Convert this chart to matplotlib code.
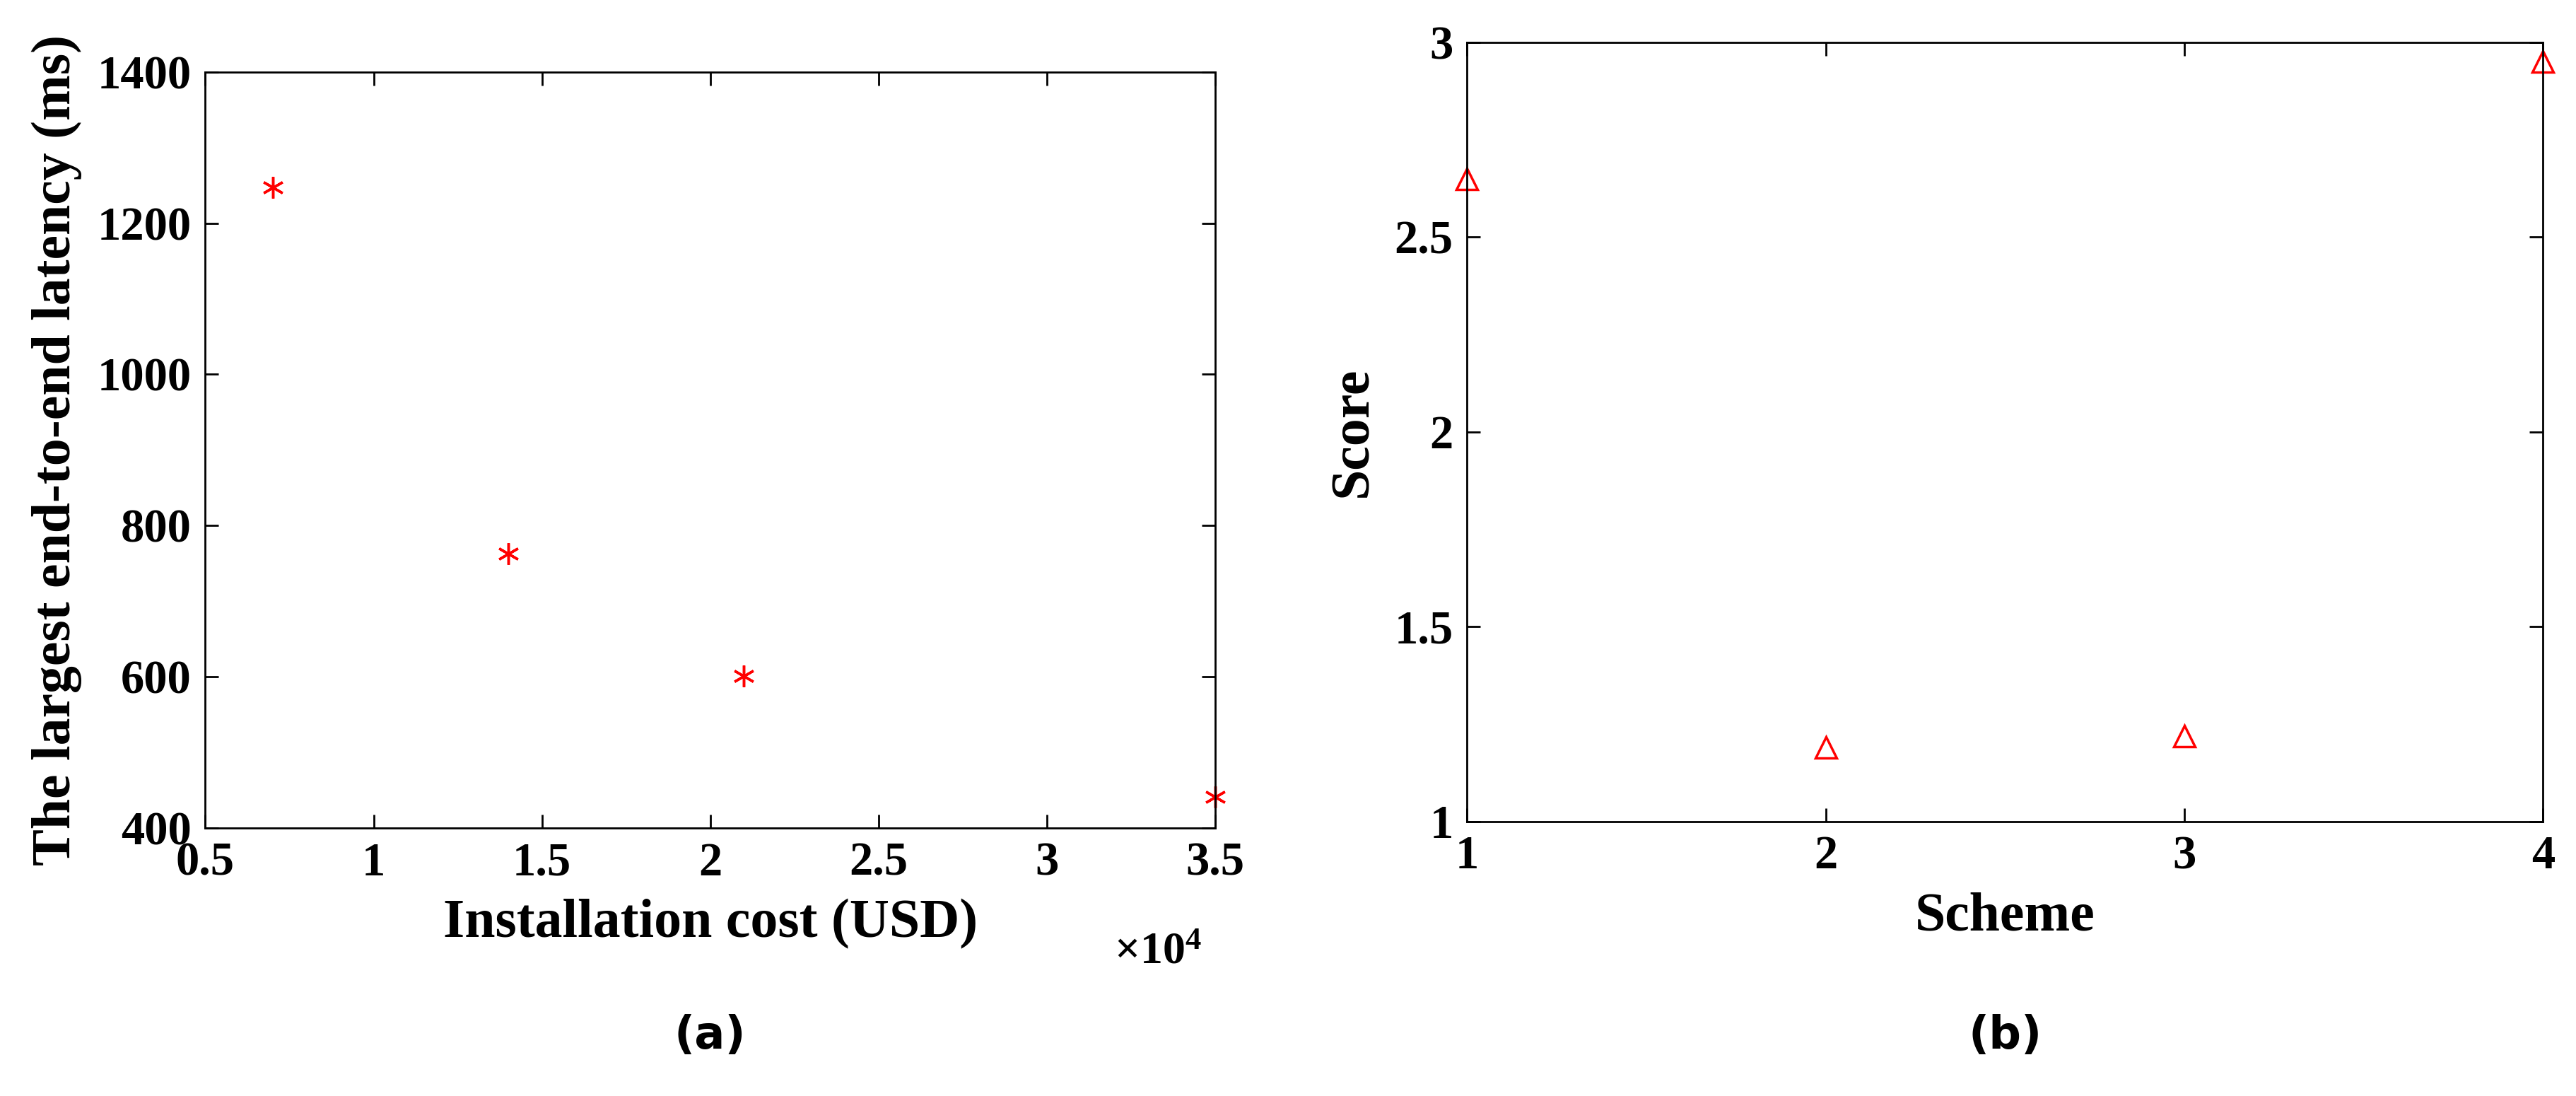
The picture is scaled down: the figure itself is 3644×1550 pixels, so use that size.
import matplotlib
matplotlib.use("Agg")
import matplotlib.pyplot as plt

cost = [7000, 14000, 21000, 35000]
latency = [1247, 763, 601, 441]
scheme = [1, 2, 3, 4]
score = [2.65, 1.19, 1.22, 2.95]

plt.rcParams['font.family'] = ['Liberation Serif', 'DejaVu Serif']
plt.rcParams['font.weight'] = 'bold'
plt.rcParams['mathtext.fontset'] = 'custom'
plt.rcParams['mathtext.rm'] = 'Liberation Serif'
plt.rcParams['mathtext.bf'] = 'Liberation Serif:bold'
fig = plt.figure(figsize=(36.44, 15.5), dpi=100)

ax1 = fig.add_axes([0.0797, 0.2444, 0.392, 0.690])
ax1.plot([c / 1e4 for c in cost], latency, linestyle='none', marker=(6, 2, 0), markersize=22, markeredgewidth=2.5, color='red', clip_on=False)
ax1.set_xlim(0.5, 3.5)
ax1.set_ylim(400, 1400)
ax1.set_xticks([0.5, 1, 1.5, 2, 2.5, 3, 3.5])
ax1.set_xticklabels(['0.5', '1', '1.5', '2', '2.5', '3', '3.5'])
ax1.set_yticks(range(400, 1401, 200))
ax1.set_xlabel('Installation cost (USD)', fontsize=56, fontweight='bold', labelpad=14)
ax1.set_ylabel('The largest end-to-end latency (ms)', fontsize=56, fontweight='bold', labelpad=16)
ax1.text(0.90, -0.165, r'$\times\mathbf{10^4}$', transform=ax1.transAxes, fontsize=46, ha='left', va='center')

ax2 = fig.add_axes([0.5695, 0.2504, 0.4177, 0.711])
ax2.plot(scheme, score, linestyle='none', marker='^', markersize=22, markerfacecolor='none', markeredgewidth=2.5, color='red', clip_on=False)
ax2.set_xlim(1, 4)
ax2.set_ylim(1, 3)
ax2.set_xticks([1, 2, 3, 4])
ax2.set_yticks([1, 1.5, 2, 2.5, 3])
ax2.set_yticklabels(['1', '1.5', '2', '2.5', '3'])
ax2.set_xlabel('Scheme', fontsize=56, fontweight='bold', labelpad=14)
ax2.set_ylabel('Score', fontsize=56, fontweight='bold', labelpad=16)

for ax in (ax1, ax2):
    ax.tick_params(direction='in', top=True, right=True, labelsize=48, length=14, width=2, pad=14)
    for s in ax.spines.values():
        s.set_linewidth(2)
    for lab in ax.get_xticklabels() + ax.get_yticklabels():
        lab.set_fontweight('bold')

fig.text(0.2755, 0.055, '(a)', fontsize=46, fontweight='bold', family='DejaVu Sans', ha='center', va='center')
fig.text(0.7785, 0.055, '(b)', fontsize=46, fontweight='bold', family='DejaVu Sans', ha='center', va='center')

fig.savefig('out.png', dpi=100)
